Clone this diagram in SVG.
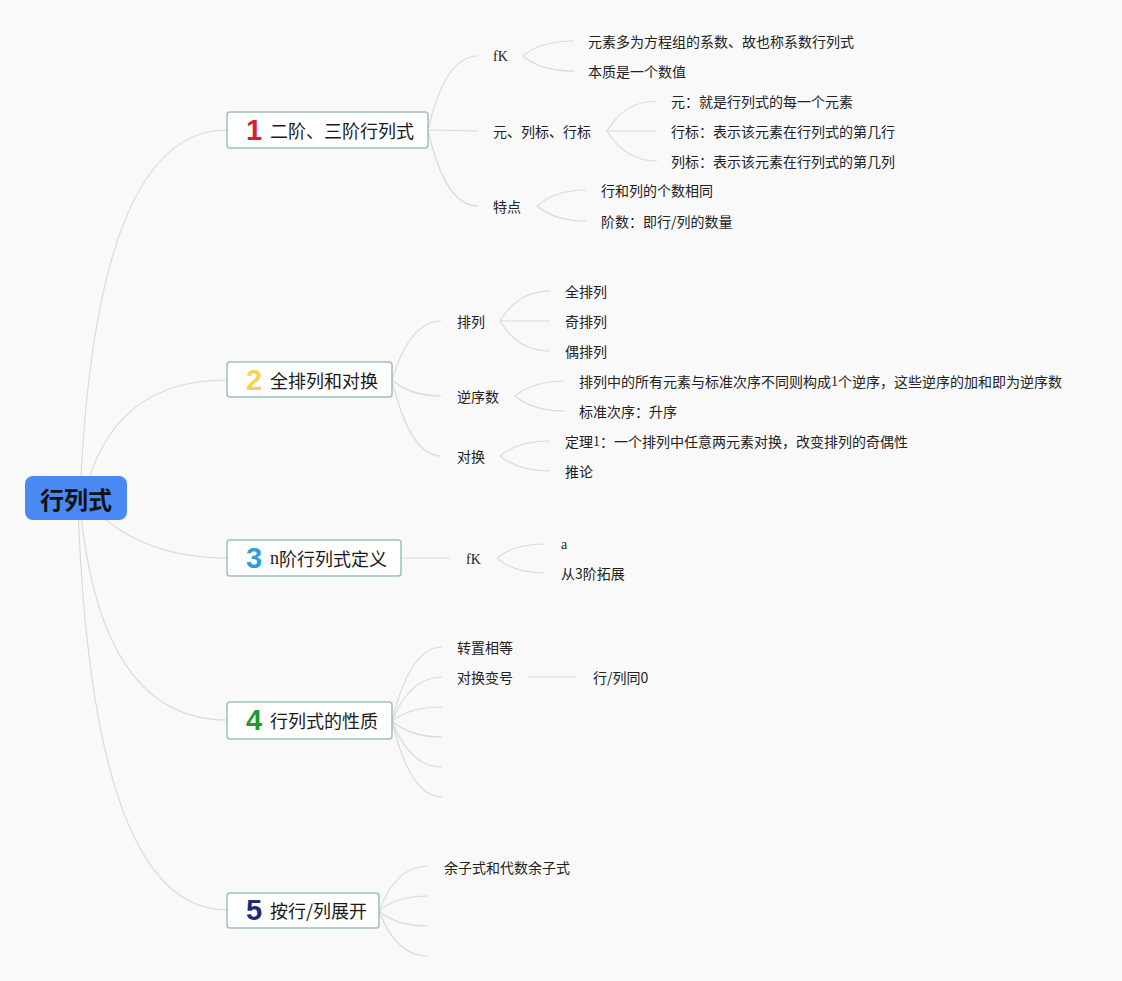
<svg xmlns="http://www.w3.org/2000/svg" width="1122" height="981" viewBox="0 0 1122 981">
<style>
.bg{fill:#f9f9f9}
.c{fill:none;stroke:#dadada;stroke-width:1.2}
.box{fill:#ffffff;stroke:#9fc1b6;stroke-width:1.5}
.t{font-family:"Noto Sans CJK SC","Liberation Sans",sans-serif;font-size:14px;fill:#222;dominant-baseline:central}
.s{font-family:"Liberation Serif",serif}
.bt{font-family:"Noto Sans CJK SC","Liberation Sans",sans-serif;font-size:18px;fill:#1a1a1a;dominant-baseline:central}
.num{font-family:"Liberation Sans","DejaVu Sans",sans-serif;font-size:29px;font-weight:900;text-anchor:middle;dominant-baseline:central}
</style>
<rect class="bg" x="0" y="0" width="1122" height="981"/>
<g id="connectors">
<path class="c" d="M80 498 Q95 130 227 130"/>
<path class="c" d="M84 498 Q110 380 227 380"/>
<path class="c" d="M90 505 Q140 558 227 558"/>
<path class="c" d="M80 505 Q100 720 227 720"/>
<path class="c" d="M78 505 Q92 910 227 910"/>
<path class="c" d="M428 130 Q445 56 478 56"/>
<path class="c" d="M428 130 L478 131"/>
<path class="c" d="M428 130 Q445 206 478 206"/>
<path class="c" d="M523 56 Q540 41 574 41"/>
<path class="c" d="M523 56 Q540 71 574 71"/>
<path class="c" d="M607 131 Q625 101 657 101"/>
<path class="c" d="M607 131 L657 131"/>
<path class="c" d="M607 131 Q625 161 657 161"/>
<path class="c" d="M537 206 Q555 190 586 190"/>
<path class="c" d="M537 206 Q555 221 586 221"/>
<path class="c" d="M392 380 Q410 321 441 321"/>
<path class="c" d="M392 380 Q410 396 441 396"/>
<path class="c" d="M392 380 Q410 456 441 456"/>
<path class="c" d="M500 321 Q518 291 550 291"/>
<path class="c" d="M500 321 L550 321"/>
<path class="c" d="M500 321 Q518 351 550 351"/>
<path class="c" d="M515 396 Q533 381 565 381"/>
<path class="c" d="M515 396 Q533 411 565 411"/>
<path class="c" d="M500 456 Q518 441 550 441"/>
<path class="c" d="M500 456 Q518 471 550 471"/>
<path class="c" d="M401 558 L450 558"/>
<path class="c" d="M497 558 Q514 544 545 544"/>
<path class="c" d="M497 558 Q514 573 545 573"/>
<path class="c" d="M392 721 Q410 647 442 647"/>
<path class="c" d="M392 721 Q410 677 442 677"/>
<path class="c" d="M392 721 Q410 707 442 707"/>
<path class="c" d="M392 721 Q410 737 442 737"/>
<path class="c" d="M392 721 Q410 767 442 767"/>
<path class="c" d="M392 721 Q410 797 442 797"/>
<path class="c" d="M528 677 L577 677"/>
<path class="c" d="M379 911 Q396 866 428 866"/>
<path class="c" d="M379 911 Q396 896 428 896"/>
<path class="c" d="M379 911 Q396 926 428 926"/>
<path class="c" d="M379 911 Q396 956 428 956"/>
</g>
<g id="root">
<rect x="25" y="476" width="102" height="44" rx="8" fill="#4a88f3"/>
<text x="76" y="498" text-anchor="middle" font-family="'Noto Sans CJK SC',sans-serif" font-size="24" font-weight="bold" fill="#111" dominant-baseline="central">行列式</text>
</g>
<g id="b1">
<rect class="box" x="227" y="112" width="201" height="36" rx="3"/>
<text class="num" x="254" y="130" fill="#d81e3a">1</text>
<text class="bt" x="270" y="130">二阶、三阶行列式</text>
</g>
<g id="b2">
<rect class="box" x="227" y="362" width="165" height="35" rx="3"/>
<text class="num" x="254" y="380" fill="#f2d24f">2</text>
<text class="bt" x="270" y="380">全排列和对换</text>
</g>
<g id="b3">
<rect class="box" x="227" y="540" width="174" height="36" rx="3"/>
<text class="num" x="254" y="558" fill="#2d9de0">3</text>
<text class="bt" x="270" y="558"><tspan class="s">n</tspan>阶行列式定义</text>
</g>
<g id="b4">
<rect class="box" x="227" y="702" width="165" height="37" rx="3"/>
<text class="num" x="254" y="720" fill="#1f9b2d">4</text>
<text class="bt" x="270" y="720">行列式的性质</text>
</g>
<g id="b5">
<rect class="box" x="227" y="893" width="152" height="35" rx="3"/>
<text class="num" x="254" y="910" fill="#1e2a7a">5</text>
<text class="bt" x="270" y="910">按行/列展开</text>
</g>
<g id="n1a"><text class="t s" x="493" y="56">fK</text></g>
<g id="n1a1"><text class="t" x="588" y="41">元素多为方程组的系数、故也称系数行列式</text></g>
<g id="n1a2"><text class="t" x="588" y="71">本质是一个数值</text></g>
<g id="n1b"><text class="t" x="493" y="131">元、列标、行标</text></g>
<g id="n1b1"><text class="t" x="671" y="101">元：就是行列式的每一个元素</text></g>
<g id="n1b2"><text class="t" x="671" y="131">行标：表示该元素在行列式的第几行</text></g>
<g id="n1b3"><text class="t" x="671" y="161">列标：表示该元素在行列式的第几列</text></g>
<g id="n1c"><text class="t" x="493" y="206">特点</text></g>
<g id="n1c1"><text class="t" x="601" y="190">行和列的个数相同</text></g>
<g id="n1c2"><text class="t" x="601" y="221">阶数：即行/列的数量</text></g>
<g id="n2a"><text class="t" x="457" y="321">排列</text></g>
<g id="n2a1"><text class="t" x="565" y="291">全排列</text></g>
<g id="n2a2"><text class="t" x="565" y="321">奇排列</text></g>
<g id="n2a3"><text class="t" x="565" y="351">偶排列</text></g>
<g id="n2b"><text class="t" x="457" y="396">逆序数</text></g>
<g id="n2b1"><text class="t" x="579" y="381">排列中的所有元素与标准次序不同则构成<tspan class="s">1</tspan>个逆序，这些逆序的加和即为逆序数</text></g>
<g id="n2b2"><text class="t" x="579" y="411">标准次序：升序</text></g>
<g id="n2c"><text class="t" x="457" y="456">对换</text></g>
<g id="n2c1"><text class="t" x="565" y="441">定理<tspan class="s">1</tspan>：一个排列中任意两元素对换，改变排列的奇偶性</text></g>
<g id="n2c2"><text class="t" x="565" y="471">推论</text></g>
<g id="n3a"><text class="t s" x="466" y="559">fK</text></g>
<g id="n3a1"><text class="t s" x="561" y="544">a</text></g>
<g id="n3a2"><text class="t" x="561" y="573">从3阶拓展</text></g>
<g id="n4a"><text class="t" x="457" y="647">转置相等</text></g>
<g id="n4b"><text class="t" x="457" y="677">对换变号</text></g>
<g id="n4b1"><text class="t" x="593" y="677">行/列同0</text></g>
<g id="n5a"><text class="t" x="444" y="867">余子式和代数余子式</text></g>
</svg>
